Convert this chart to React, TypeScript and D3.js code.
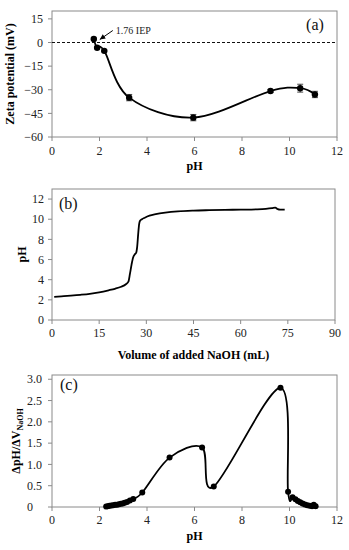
import * as d3 from 'd3';

// (a) zeta potential vs pH
const zetaPH = [1.76, 1.9, 2.2, 3.25, 5.95, 9.2, 10.45, 11.07];
const zetaMV = [2.3, -3.3, -5.3, -35, -47.7, -30.8, -29, -33];
const zetaErr = [0.5, 0.5, 0.5, 2, 2, 1, 2.5, 2];
const zetaTicks = [-60, -45, -30, -15, 0, 15];
const iepValue = 1.76;

// (b) titration curve
const volNaOH = [0.7, 3, 6, 9, 12, 15, 18, 20, 22, 23.5, 24.3, 24.8, 25.3, 25.8, 26.3, 26.8, 27.1, 27.4, 27.7, 28.0, 28.6, 29.5, 31, 33, 36, 40, 45, 50, 55, 60, 65, 68, 70, 71, 71.8, 72.5, 74];
const phCurve = [2.3, 2.35, 2.42, 2.5, 2.6, 2.75, 2.95, 3.1, 3.3, 3.55, 3.8, 4.6, 5.5, 6.2, 6.5, 6.7, 7.3, 8.5, 9.5, 9.85, 10.0, 10.15, 10.35, 10.5, 10.65, 10.78, 10.86, 10.9, 10.93, 10.95, 10.98, 11.03, 11.1, 11.15, 11.0, 10.95, 10.95];
const volTicks = [0, 15, 30, 45, 60, 75, 90];
const phTicks = [0, 2, 4, 6, 8, 10, 12];

// (c) derivative vs pH
const dPH = [2.28, 2.35, 2.42, 2.5, 2.58, 2.66, 2.74, 2.82, 2.9, 2.98, 3.06, 3.16, 3.28, 3.42, 3.8, 4.95, 6.32, 6.81, 9.62, 9.94, 10.13, 10.25, 10.35, 10.45, 10.55, 10.65, 10.75, 10.85, 10.95, 11.02, 11.1];
const dVal = [0.01, 0.02, 0.03, 0.035, 0.04, 0.05, 0.055, 0.065, 0.075, 0.085, 0.1, 0.12, 0.15, 0.19, 0.34, 1.16, 1.4, 0.48, 2.8, 0.36, 0.23, 0.18, 0.14, 0.11, 0.08, 0.06, 0.04, 0.03, 0.02, 0.05, 0.02];
const dTicks = [0, 0.5, 1.0, 1.5, 2.0, 2.5, 3.0];
const pHTicks = [0, 2, 4, 6, 8, 10, 12];

const FONT = 'Liberation Serif';
const FRAME = '#8a8a8a';
const TXT = '#222';

const fmtMinus = (v: number) => (v < 0 ? '\u2212' + Math.abs(v) : String(v));
const fmtDec = (v: number) => (v === 0 ? '0' : v.toFixed(1));

type AxisProps = {
  x: d3.ScaleLinear<number, number>;
  y: d3.ScaleLinear<number, number>;
  xTicks: number[];
  yTicks: number[];
  yFmt: (v: number) => string;
  yLabelX: number;
  yAnchor: string;
  xLabelY: number;
};

const Frame = ({ x, y, xTicks, yTicks, yFmt, yLabelX, yAnchor, xLabelY }: AxisProps) => {
  const [x0, x1] = x.range();
  const [y0, y1] = y.range();
  return (
    <g fontSize={12} fill={TXT}>
      <rect x={x0} y={y1} width={x1 - x0} height={y0 - y1} fill="none" stroke={FRAME} strokeWidth={1} />
      {yTicks.map((t) => (
        <g key={'y' + t}>
          <line x1={x0 - 4} x2={x0} y1={y(t)} y2={y(t)} stroke={FRAME} />
          <text x={yLabelX} y={y(t)} dy="0.35em" textAnchor={yAnchor}>
            {yFmt(t)}
          </text>
        </g>
      ))}
      {xTicks.map((t) => (
        <g key={'x' + t}>
          <line x1={x(t)} x2={x(t)} y1={y0} y2={y0 + 4} stroke={FRAME} />
          <text x={x(t)} y={xLabelY} dy="0.35em" textAnchor="middle">
            {t}
          </text>
        </g>
      ))}
    </g>
  );
};

const smooth = d3.curveCardinal.tension(0);

const App = () => {
  // panel a
  const xa = d3.scaleLinear().domain([0, 12]).range([52, 337]);
  const ya = d3.scaleLinear().domain([-60, 20]).range([137, 11]);
  const ptsA = zetaPH.map((p, i) => [p, zetaMV[i]] as [number, number]);
  const lineA = d3
    .line<[number, number]>()
    .x((d) => xa(d[0]))
    .y((d) => ya(d[1]))
    .curve(smooth);

  // panel b
  const xb = d3.scaleLinear().domain([0, 90]).range([52, 335]);
  const yb = d3.scaleLinear().domain([0, 13]).range([320, 189]);
  const ptsB = volNaOH.map((v, i) => [v, phCurve[i]] as [number, number]);
  const lineB = d3
    .line<[number, number]>()
    .x((d) => xb(d[0]))
    .y((d) => yb(d[1]))
    .curve(d3.curveMonotoneX);

  // panel c
  const xc = d3.scaleLinear().domain([0, 12]).range([52, 337]);
  const yc = d3.scaleLinear().domain([0, 3.1]).range([507, 375]);
  const ptsC = dPH.map((p, i) => [p, dVal[i]] as [number, number]);
  const lineC = d3
    .line<[number, number]>()
    .x((d) => xc(d[0]))
    .y((d) => yc(d[1]))
    .curve(smooth);

  const tipX = xa(iepValue) + 6;
  const tipY = ya(0) - 3;
  const tailX = tipX + 13;
  const tailY = tipY - 9;
  const ang = Math.atan2(tipY - tailY, tipX - tailX);
  const head = [
    [tipX, tipY],
    [tipX - 6 * Math.cos(ang - 0.45), tipY - 6 * Math.sin(ang - 0.45)],
    [tipX - 6 * Math.cos(ang + 0.45), tipY - 6 * Math.sin(ang + 0.45)],
  ];

  return (
    <svg
      width={349}
      height={550}
      style={{ position: 'absolute', left: 0, top: 0, background: '#fff', fontFamily: FONT }}
    >
      {/* (a) */}
      <Frame x={xa} y={ya} xTicks={[0, 2, 4, 6, 8, 10, 12]} yTicks={zetaTicks} yFmt={fmtMinus} yLabelX={43} yAnchor="end" xLabelY={151} />
      <line x1={xa(0)} x2={xa(12)} y1={ya(0)} y2={ya(0)} stroke="#111" strokeWidth={1} strokeDasharray="3,2" />
      <path d={lineA(ptsA) || ''} fill="none" stroke="#000" strokeWidth={1.8} />
      {ptsA.map((d, i) => (
        <g key={'ea' + i} stroke="#333" strokeWidth={0.9}>
          <line x1={xa(d[0])} x2={xa(d[0])} y1={ya(d[1] - zetaErr[i])} y2={ya(d[1] + zetaErr[i])} />
          <line x1={xa(d[0]) - 3} x2={xa(d[0]) + 3} y1={ya(d[1] - zetaErr[i])} y2={ya(d[1] - zetaErr[i])} />
          <line x1={xa(d[0]) - 3} x2={xa(d[0]) + 3} y1={ya(d[1] + zetaErr[i])} y2={ya(d[1] + zetaErr[i])} />
        </g>
      ))}
      {ptsA.map((d, i) => (
        <circle key={'ca' + i} cx={xa(d[0])} cy={ya(d[1])} r={3.2} fill="#000" />
      ))}
      <line x1={tailX} y1={tailY} x2={tipX} y2={tipY} stroke="#000" strokeWidth={1} />
      <polygon points={head.map((p) => p.join(',')).join(' ')} fill="#000" />
      <text x={tailX + 3} y={tailY} dy="0.35em" fontSize={10} fill={TXT}>
        {iepValue} IEP
      </text>
      <text x={315} y={30} textAnchor="middle" fontSize={16} fill="#111">(a)</text>
      <text x={xa(6)} y={166} dy="0.35em" textAnchor="middle" fontSize={12} fontWeight="bold">pH</text>
      <text transform={`translate(10,${(ya.range()[0] + ya.range()[1]) / 2}) rotate(-90)`} dy="0.35em" textAnchor="middle" fontSize={12} fontWeight="bold">
        Zeta potential (mV)
      </text>

      {/* (b) */}
      <Frame x={xb} y={yb} xTicks={volTicks} yTicks={phTicks} yFmt={String} yLabelX={44} yAnchor="end" xLabelY={333} />
      <path d={lineB(ptsB) || ''} fill="none" stroke="#000" strokeWidth={1.8} />
      <text x={59} y={209} fontSize={16} fill="#111">(b)</text>
      <text x={(xb.range()[0] + xb.range()[1]) / 2} y={355} dy="0.35em" textAnchor="middle" fontSize={12} fontWeight="bold">
        Volume of added NaOH (mL)
      </text>
      <text transform={`translate(22,${(yb.range()[0] + yb.range()[1]) / 2}) rotate(-90)`} dy="0.35em" textAnchor="middle" fontSize={12} fontWeight="bold">
        pH
      </text>

      {/* (c) */}
      <Frame x={xc} y={yc} xTicks={pHTicks} yTicks={dTicks} yFmt={fmtDec} yLabelX={27} yAnchor="start" xLabelY={520} />
      <path d={lineC(ptsC) || ''} fill="none" stroke="#000" strokeWidth={1.8} />
      {ptsC.map((d, i) => (
        <circle key={'cc' + i} cx={xc(d[0])} cy={yc(d[1])} r={3} fill="#000" />
      ))}
      <text x={60} y={390} fontSize={16} fill="#111">(c)</text>
      <text x={xc(6)} y={536} dy="0.35em" textAnchor="middle" fontSize={12} fontWeight="bold">pH</text>
      <text transform={`translate(16,${(yc.range()[0] + yc.range()[1]) / 2}) rotate(-90)`} dy="0.35em" textAnchor="middle" fontSize={12} fontWeight="bold">
        ΔpH/ΔV<tspan fontSize={8} dy="3">NaOH</tspan>
      </text>
    </svg>
  );
};

export default App;
